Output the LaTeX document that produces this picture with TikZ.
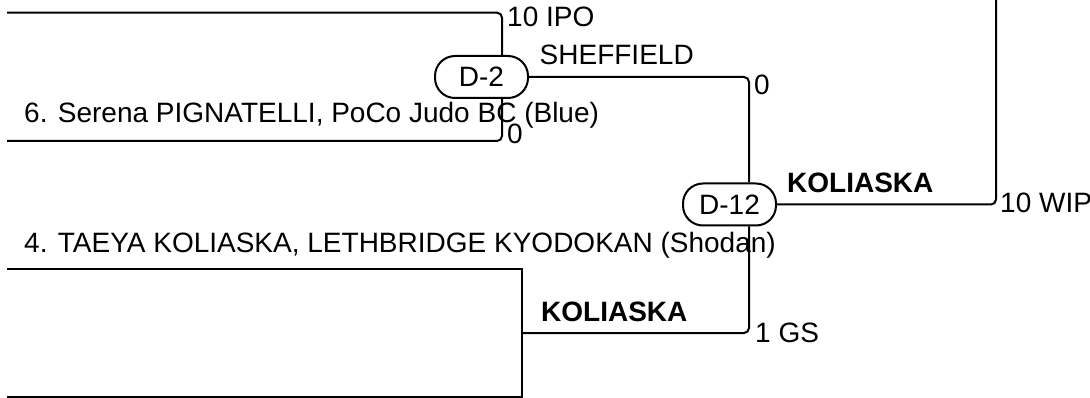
\documentclass[tikz,border=0pt]{standalone}
\usepackage{fontspec}
\setmainfont{Liberation Sans}
\begin{document}
\begin{tikzpicture}[x=1pt,y=-1pt,
  lbl/.style={inner sep=0pt, anchor=base west, font=\fontsize{28}{34}\selectfont},
  blbl/.style={inner sep=0pt, anchor=base west, font=\fontsize{28}{34}\selectfont\bfseries},
  bout/.style={draw, line width=2pt, rounded corners=20pt, minimum width=93pt, minimum height=42pt, inner sep=0pt, font=\fontsize{28}{34}\selectfont},
  wire/.style={line width=2pt, rounded corners=5pt}]
\useasboundingbox (0,0) rectangle (1090,398);
% bout nodes
\node[bout] (d2) at (481.5,77) {D-2};
\node[bout] (d12) at (729.5,204.5) {D-12};
% coordinates
\coordinate (u1) at (7,12.7);
\coordinate (u2) at (7,141);
\coordinate (x2) at (502,0);
\coordinate (x12) at (749,0);
\coordinate (r1) at (996,-3);
\coordinate (l1) at (7,269);
\coordinate (l2) at (522,269);
\coordinate (l3) at (522,397);
\coordinate (l4) at (7,397);
\coordinate (lm) at (522,333);
% connectors
\draw[wire] (u1) -| (d2.north -| x2);
\draw[wire] (u2) -| (d2.south -| x2);
\draw[wire] (d2.east) -| (d12.north -| x12);
\draw[wire] (lm) -| (d12.south -| x12);
\draw[wire] (d12.east) -| (r1);
\draw[line width=2pt] (l1) -- (l2) -- (l3) -- (l4);
% labels
\node[lbl] (t1) at (507,27) {10 IPO};
\node[lbl] (t2) at (539.5,65) {SHEFFIELD};
\node[lbl] (t3) at (754,95) {0};
\node[lbl] (t4) at (24,123) {6. Serena PIGNATELLI, PoCo Judo BC (Blue)};
\node[lbl] (t5) at (507,144) {0};
\node[blbl] (t6) at (787,193) {KOLIASKA};
\node[lbl] (t7) at (1000,213) {10 WIP};
\node[lbl] (t8) at (24,253) {4. TAEYA KOLIASKA, LETHBRIDGE KYODOKAN (Shodan)};
\node[blbl] (t9) at (541,321) {KOLIASKA};
\node[lbl] (t10) at (755,342) {1 GS};
\end{tikzpicture}
\end{document}
